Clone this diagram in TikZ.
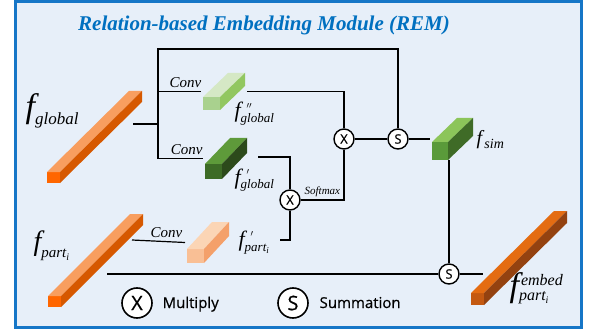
\documentclass[tikz,border=0pt]{standalone}
\usepackage{fontspec}
\setmainfont{Liberation Serif}
\newfontfamily\legfont{Open Sans}[UprightFeatures={FakeBold=0.5}]
\usetikzlibrary{calc}

\definecolor{framefill}{RGB}{231,239,249}
\definecolor{frameblue}{RGB}{22,118,199}
\definecolor{titleblue}{RGB}{0,112,192}
\definecolor{orF}{RGB}{255,102,0}
\definecolor{orT}{RGB}{248,158,95}
\definecolor{orR}{RGB}{214,88,0}
\definecolor{emF}{RGB}{196,89,17}
\definecolor{emT}{RGB}{228,108,18}
\definecolor{emR}{RGB}{148,66,16}
\definecolor{lgF}{RGB}{169,209,142}
\definecolor{lgT}{RGB}{213,232,197}
\definecolor{lgR}{RGB}{146,199,96}
\definecolor{dgF}{RGB}{61,107,38}
\definecolor{dgT}{RGB}{94,154,58}
\definecolor{dgR}{RGB}{44,74,27}
\definecolor{smF}{RGB}{90,154,58}
\definecolor{smT}{RGB}{140,197,90}
\definecolor{smR}{RGB}{63,107,39}
\definecolor{poF}{RGB}{249,191,149}
\definecolor{poT}{RGB}{251,213,181}
\definecolor{poR}{RGB}{244,160,106}

\newcommand{\featbox}[8]{%
  \fill[#8F] (#2,#3) rectangle ++(#4,#5);
  \fill[#8T] (#2,#3) -- ++(#6,-#7) -- ++(#4,0) -- ++(-#6,#7) -- cycle;
  \fill[#8R] (#2+#4,#3) -- ++(#6,-#7) -- ++(0,#5) -- ++(-#6,#7) -- cycle;
  \coordinate (#1-w) at (#2-2,#3+#5/2-#7/2);
  \coordinate (#1-e) at (#2+#4+#6+2,#3+#5/2-#7/2);
}
\newcommand{\fsym}[6]{{\fontsize{#1}{#1}\selectfont\itshape f}%
  {\fontsize{#2}{#2}\selectfont\itshape\rlap{\raisebox{#6}{#4}}\raisebox{-#5}{#3}}}

\begin{document}
\begin{tikzpicture}[x=1pt,y=-1pt,line width=1.2pt,
  op/.style={circle,draw,line width=1.4pt,fill=white,minimum size=20pt,inner sep=0pt,font=\legfont\fontsize{13}{13}\selectfont},
  legop/.style={op,minimum size=30pt,line width=1.6pt,font=\legfont\fontsize{20}{20}\selectfont},
  lab/.style={anchor=base west,inner sep=0pt},
  conv/.style={font=\fontsize{15}{15}\selectfont\itshape,inner sep=0pt}]
	\useasboundingbox (0,0) rectangle (589,334);
	\draw[line width=2.5pt,draw=frameblue,fill=framefill] (15.5,1.5) rectangle (581.5,327.5);
	\node (Title) [font=\fontsize{21}{21}\selectfont\bfseries\itshape,text=titleblue] at (264,25) {Relation-based Embedding Module (REM)};

	\node (X1) [op] at (344,139) {X};
	\node (S1) [op] at (398,139) {S};
	\node (X2) [op] at (290,200) {X};
	\node (S3) [op] at (449,274) {S};

	\coordinate (split) at (158,124);
	\coordinate (top) at (158,49);
	\coordinate (glob-out) at (133,124);
	\coordinate (part-out) at (132,240);
	\coordinate (part-low) at (107,274);
	\coordinate (dg-out) at (258,157);
	\coordinate (po-out) at (280,240);
	\coordinate (sim-s) at (449,160);
	\coordinate (emb-in) at (483,274);

	\featbox{glob}{47}{172}{13}{11}{82}{81}{or}
	\featbox{part}{48}{296}{13}{11}{82}{82}{or}
	\featbox{emb}{471}{293}{13}{12}{83}{82}{em}
	\featbox{lg}{203}{97}{17}{13}{25}{24}{lg}
	\featbox{dg}{205}{164}{17}{15}{25}{26}{dg}
	\featbox{po}{187}{249}{17}{14}{25}{27}{po}
	\featbox{sim}{432}{142}{16}{18}{25}{24}{sm}

	\draw (glob-out) -- (split);
	\draw (split) -- (top) -| (S1);
	\draw (split) |- node (ConvA) [conv,pos=0.82,above=3pt] {Conv} (lg-w);
	\draw (split) |- node (ConvB) [conv,pos=0.82,above=3pt] {Conv} (dg-w);
	\draw (lg-e) -| (X1);
	\draw (dg-out) -| (X2);
	\draw (po-out) -| (X2);
	\draw (X2) -| node (Smax) [pos=0.25,above=3pt,inner sep=0pt,font=\fontsize{11}{11}\selectfont\itshape] {Softmax} (X1);
	\draw (X1) -- (S1);
	\draw (S1) -- (sim-w);
	\draw (part-out) -- node (ConvC) [conv,pos=0.65,above=3pt] {Conv} (po-w);
	\draw (sim-s) -- (S3);
	\draw (part-low) -- (S3) -- (emb-in);

	\node (Fglob) [lab] at (25,118) {\fsym{34}{17}{global}{}{7pt}{0pt}};
	\node (Fpart) [lab] at (33,250) {\fsym{28}{15}{part\raisebox{-3pt}{\fontsize{10}{10}\selectfont i}}{}{7pt}{0pt}};
	\node (Fgg) [lab] at (234,118) {\fsym{22}{13}{global}{\kern6pt$''$}{5pt}{5pt}};
	\node (Fg) [lab] at (234,184) {\fsym{22}{13}{global}{\kern6pt$'$}{5pt}{5pt}};
	\node (Fpo) [lab] at (238,246) {\fsym{22}{13}{part\raisebox{-2pt}{\fontsize{9}{9}\selectfont i}}{\kern6pt$'$}{5pt}{5pt}};
	\node (Fsim) [lab] at (476,145) {\fsym{20}{14}{\,sim}{}{4pt}{0pt}};
	\node (Femb) [lab] at (509,296) {\fsym{34}{16}{part\raisebox{-3pt}{\fontsize{10}{10}\selectfont i}}{\kern2pt embed}{4pt}{11pt}};

	\node (LX) [legop] at (137,303) {X};
	\node (Lmul) [anchor=base west,inner sep=0pt,font=\legfont\fontsize{15}{15}\selectfont] at (162,308) {Multiply};
	\node (LS) [legop] at (293,303) {S};
	\node (Lsum) [anchor=base west,inner sep=0pt,font=\legfont\fontsize{15}{15}\selectfont] at (319,308) {Summation};
\end{tikzpicture}
\end{document}
